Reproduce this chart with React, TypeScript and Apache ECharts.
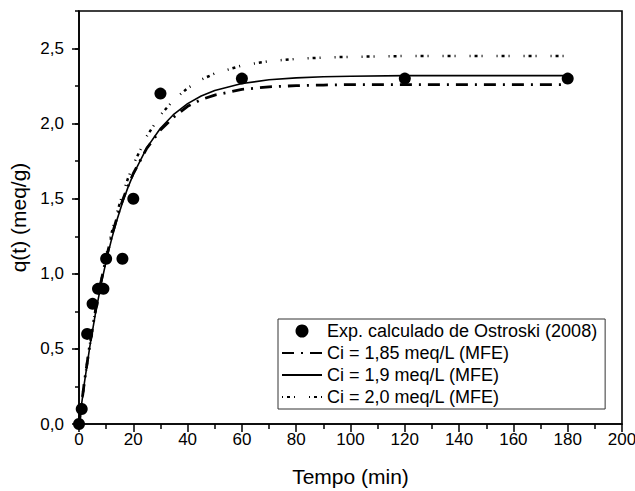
import React, { useEffect, useRef } from 'react';
import * as echarts from 'echarts';

// Experimental points (Ostroski, 2008)
const expTime = [0, 1, 3, 5, 7, 9, 10, 16, 20, 30, 60, 120, 180];
const expQ = [0, 0.1, 0.6, 0.8, 0.9, 0.9, 1.1, 1.1, 1.5, 2.2, 2.3, 2.3, 2.3];

// Model curves (MFE)
const modelTime = [0, 2, 4, 6, 8, 10, 12, 14, 16, 18, 20, 25, 30, 35, 40, 45, 50, 60, 70, 80, 90, 100, 120, 140, 160, 180];
const q185 = [0, 0.283, 0.531, 0.748, 0.938, 1.104, 1.249, 1.375, 1.486, 1.583, 1.668, 1.837, 1.957, 2.045, 2.115, 2.16, 2.19, 2.228, 2.245, 2.253, 2.257, 2.26, 2.26, 2.26, 2.26, 2.26];
const q19 = [0, 0.275, 0.517, 0.73, 0.918, 1.084, 1.231, 1.36, 1.473, 1.574, 1.662, 1.84, 1.969, 2.064, 2.133, 2.184, 2.22, 2.267, 2.292, 2.305, 2.312, 2.316, 2.32, 2.32, 2.32, 2.32];
const q20 = [0, 0.281, 0.53, 0.751, 0.946, 1.119, 1.272, 1.407, 1.527, 1.633, 1.727, 1.917, 2.057, 2.16, 2.236, 2.293, 2.334, 2.387, 2.416, 2.431, 2.44, 2.445, 2.45, 2.45, 2.45, 2.45];

const seriesNames = [
  'Exp. calculado de Ostroski (2008)',
  'Ci = 1,85 meq/L (MFE)',
  'Ci = 1,9 meq/L (MFE)',
  'Ci = 2,0 meq/L (MFE)',
];
const yLabelValues = [0, 0.5, 1, 1.5, 2, 2.5];

const FONT = '"Liberation Sans", Arial, sans-serif';

const pairs = (xs: number[], ys: number[]) => xs.map((x, i) => [x, ys[i]]);
const fmt = (v: number) => v.toFixed(1).replace('.', ',');
const hiddenSymbol = { color: 'rgba(0,0,0,0)', borderWidth: 0, opacity: 0 };

export default function App() {
  const ref = useRef<HTMLDivElement>(null);
  useEffect(() => {
    if (!ref.current) return;
    const chart = echarts.init(ref.current, undefined, { renderer: 'svg' });
    chart.setOption({
      animation: false,
      backgroundColor: '#fff',
      textStyle: { fontFamily: FONT, color: '#000' },
      grid: {
        left: 79, right: 13, top: 11, bottom: 67,
        containLabel: false,
        outerBoundsMode: 'none',
        show: true, borderColor: '#000', borderWidth: 1.6, backgroundColor: 'transparent',
      },
      legend: {
        orient: 'vertical',
        left: 278, top: 319,
        data: [
          { name: seriesNames[0], itemStyle: { color: '#000', opacity: 1 } },
          { name: seriesNames[1], itemStyle: hiddenSymbol },
          { name: seriesNames[2], itemStyle: hiddenSymbol },
          { name: seriesNames[3], itemStyle: hiddenSymbol },
        ],
        backgroundColor: '#fff',
        borderColor: '#333', borderWidth: 1,
        padding: [3, 8, 3, 3],
        itemGap: 4,
        itemWidth: 40, itemHeight: 13,
        textStyle: { fontFamily: FONT, fontSize: 18, lineHeight: 18, color: '#000' },
      },
      xAxis: {
        type: 'value', min: 0, max: 200, interval: 20,
        name: 'Tempo (min)', nameLocation: 'middle', nameGap: 42,
        nameTextStyle: { fontFamily: FONT, fontSize: 21, color: '#000' },
        axisLine: { lineStyle: { color: '#000', width: 1.6 } },
        axisTick: { length: 8, lineStyle: { color: '#000', width: 1.5 } },
        minorTick: { show: true, splitNumber: 2, length: 5, lineStyle: { color: '#000', width: 1.5 } },
        axisLabel: { fontFamily: FONT, fontSize: 17, color: '#000', margin: 7 },
        splitLine: { show: false },
        minorSplitLine: { show: false },
      },
      yAxis: [
        {
          type: 'value', min: 0, max: 2.75, interval: 0.25,
          name: 'q(t) (meq/g)', nameLocation: 'middle', nameGap: 45,
          nameTextStyle: { fontFamily: FONT, fontSize: 21, color: '#000' },
          axisLine: { lineStyle: { color: '#000', width: 1.6 } },
          axisTick: { length: 4, lineStyle: { color: '#000', width: 1.5 } },
          axisLabel: {
            fontFamily: FONT, fontSize: 17, color: '#000', margin: 15,
            customValues: yLabelValues,
            formatter: (v: number) => fmt(v),
          },
          splitLine: { show: false },
        },
        {
          type: 'value', min: 0, max: 2.75, interval: 0.25, position: 'left',
          axisLine: { show: false },
          axisTick: { length: 7, customValues: yLabelValues, lineStyle: { color: '#000', width: 1.5 } },
          axisLabel: { show: false },
          splitLine: { show: false },
        },
      ],
      series: [
        {
          name: seriesNames[1], type: 'line', data: pairs(modelTime, q185),
          showSymbol: false, symbol: 'none', z: 2,
          lineStyle: { color: '#000', width: 2.8, type: [12, 7, 2, 7] },
          itemStyle: { color: '#000' },
        },
        {
          name: seriesNames[2], type: 'line', data: pairs(modelTime, q19),
          showSymbol: false, symbol: 'none', z: 3,
          lineStyle: { color: '#000', width: 1.6, type: 'solid' },
          itemStyle: { color: '#000' },
        },
        {
          name: seriesNames[3], type: 'line', data: pairs(modelTime, q20),
          showSymbol: false, symbol: 'none', z: 2,
          lineStyle: { color: '#000', width: 2.5, type: [1, 4, 3, 4, 1, 14] },
          itemStyle: { color: '#000' },
        },
        {
          name: seriesNames[0], type: 'scatter', data: pairs(expTime, expQ),
          symbol: 'circle', symbolSize: 12, z: 5,
          itemStyle: { color: '#000', opacity: 1 },
        },
      ],
    });
    return () => chart.dispose();
  }, []);
  return <div ref={ref} style={{ position: 'fixed', left: 0, top: 0, width: 635, height: 491 }} />;
}
